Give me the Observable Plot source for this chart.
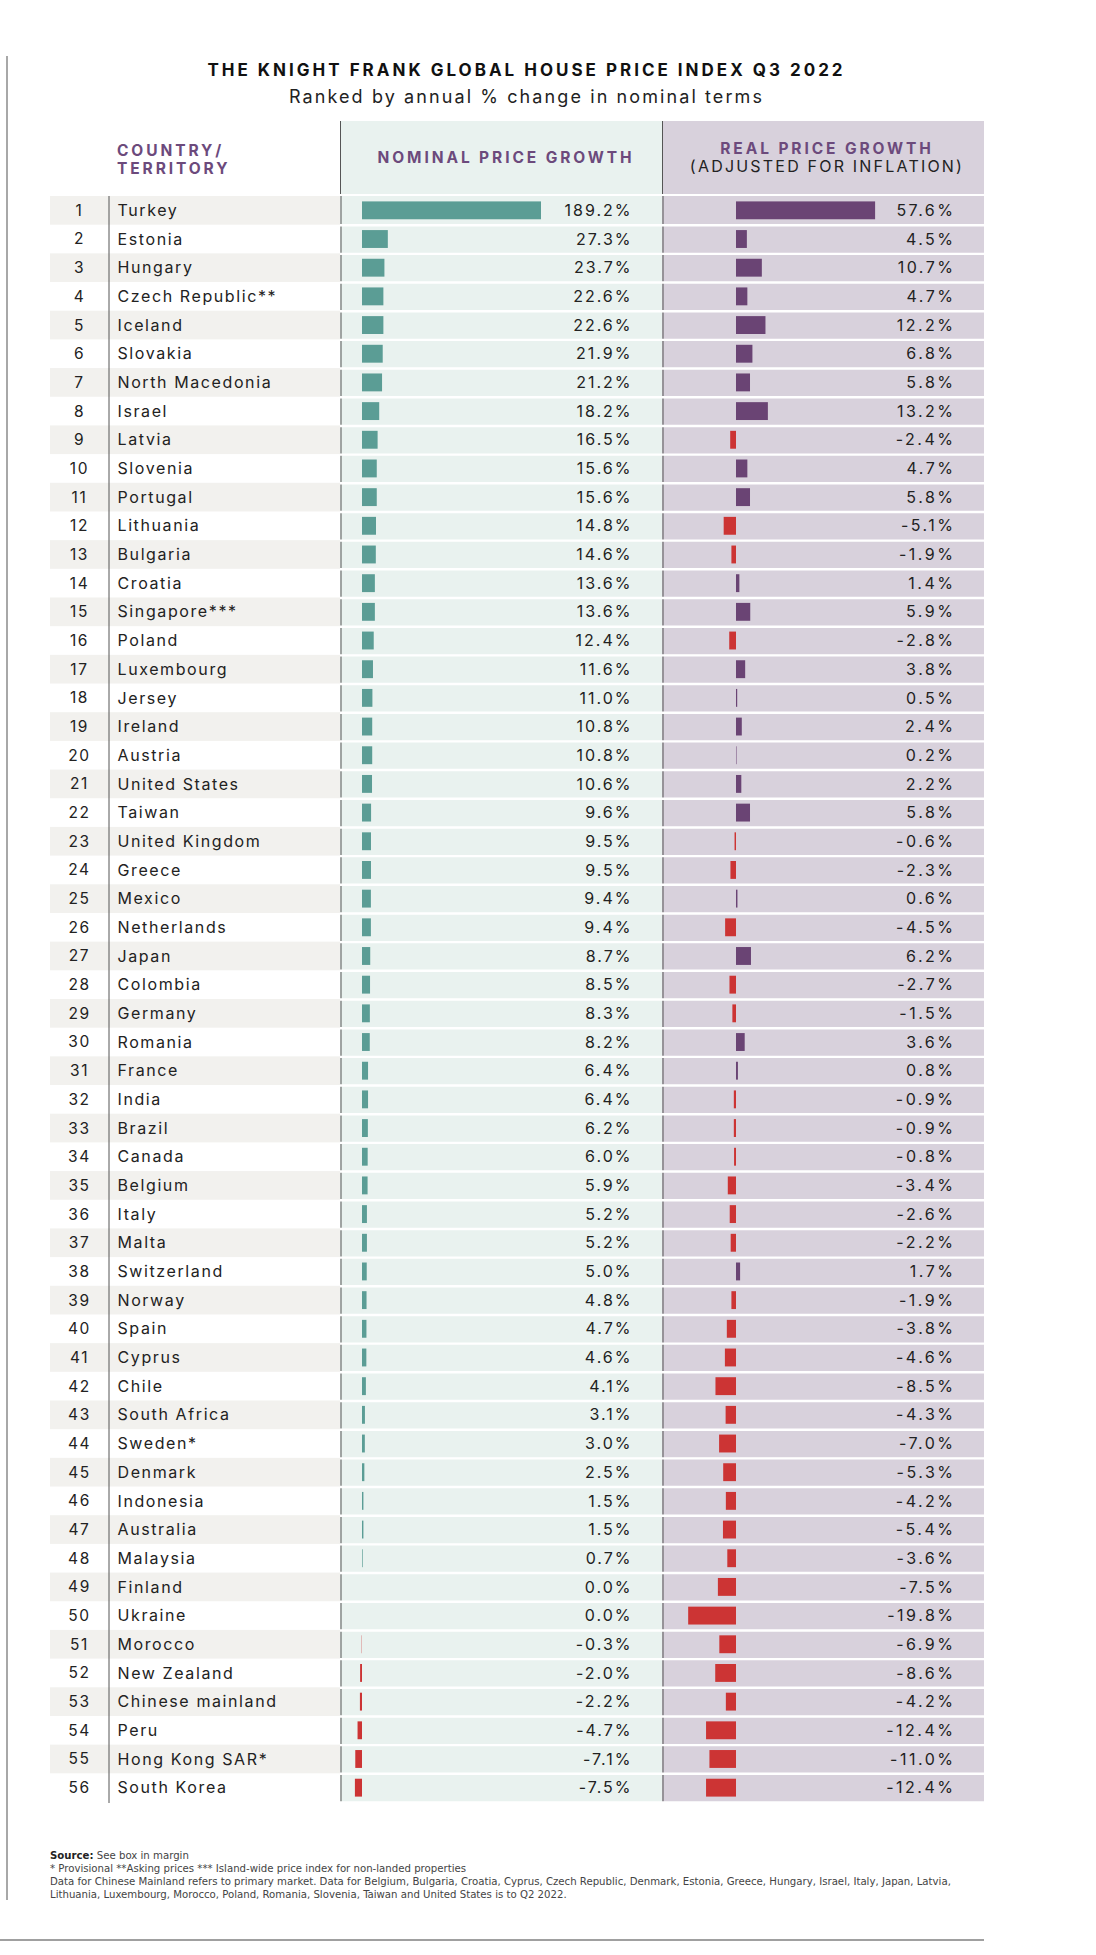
<!DOCTYPE html>
<html><head><meta charset="utf-8">
<script src="https://cdn.jsdelivr.net/npm/d3@7"></script>
<script src="https://cdn.jsdelivr.net/npm/@observablehq/plot@0.6"></script>
<style>
body{margin:0;background:#fff;}
#page{position:relative;width:1096px;height:1955px;font-family:Inter,"Noto Sans",sans-serif;color:#222;overflow:hidden;background:#fff}
.abs{position:absolute}
#title{left:0;width:1053px;top:60px;text-align:center;font-weight:700;font-size:17px;letter-spacing:3px;color:#111}
#subtitle{left:0;width:1053px;top:86px;text-align:center;font-size:18px;letter-spacing:2.1px;color:#222}
.hdr{color:#6c4a7c;font-weight:700;font-size:15.5px;letter-spacing:2.9px;line-height:17.5px}
#hNom{left:340px;top:121px;width:321px;height:73px;background:#e9f2ef;border-left:1px solid #555;display:flex;align-items:center;justify-content:center;padding-left:9px;box-sizing:border-box;width:322px}
#hReal{left:662px;top:121px;width:322px;box-sizing:border-box;padding-left:7px;height:73px;background:#d8d1dc;border-left:1px solid #555;display:flex;flex-direction:column;align-items:center;justify-content:center;text-align:center}
#hCountry{left:117px;top:142px}
.sub{color:#222;font-weight:400;font-size:16px;letter-spacing:2.2px}
#leftline{left:6px;top:56px;width:1.5px;height:1844px;background:#a8a8a8}
#bottomline{left:0;top:1939px;width:984px;height:2px;background:#a0a0a0}
#foot{left:50px;top:1849px;font-family:"Liberation Sans Narrow","DejaVu Sans Condensed","Liberation Sans",sans-serif;font-size:11.3px;line-height:13.1px;color:#444;white-space:nowrap}
#foot b{color:#222}
.plot{position:absolute;top:196px}
</style></head><body><div id="page">
<div id="leftline" class="abs"></div>
<div id="title" class="abs">THE KNIGHT FRANK GLOBAL HOUSE PRICE INDEX Q3 2022</div>
<div id="subtitle" class="abs">Ranked by annual % change in nominal terms</div>
<div id="hCountry" class="abs hdr">COUNTRY/<br>TERRITORY</div>
<div id="hNom" class="abs hdr">NOMINAL PRICE GROWTH</div>
<div id="hReal" class="abs hdr"><div>REAL PRICE GROWTH</div><div class="sub">(ADJUSTED FOR INFLATION)</div></div>
<div id="pLeft" class="plot" style="left:50px"></div>
<div id="pNom" class="plot" style="left:340px"></div>
<div id="pReal" class="plot" style="left:662px"></div>
<div id="foot" class="abs"><b>Source:</b> See box in margin<br>* Provisional **Asking prices *** Island-wide price index for non-landed properties<br>Data for Chinese Mainland refers to primary market. Data for Belgium, Bulgaria, Croatia, Cyprus, Czech Republic, Denmark, Estonia, Greece, Hungary, Israel, Italy, Japan, Latvia,<br>Lithuania, Luxembourg, Morocco, Poland, Romania, Slovenia, Taiwan and United States is to Q2 2022.</div>
<div id="bottomline" class="abs"></div>
</div>
<script>
const countries = ["Turkey","Estonia","Hungary","Czech Republic**","Iceland","Slovakia","North Macedonia","Israel","Latvia","Slovenia","Portugal","Lithuania","Bulgaria","Croatia","Singapore***","Poland","Luxembourg","Jersey","Ireland","Austria","United States","Taiwan","United Kingdom","Greece","Mexico","Netherlands","Japan","Colombia","Germany","Romania","France","India","Brazil","Canada","Belgium","Italy","Malta","Switzerland","Norway","Spain","Cyprus","Chile","South Africa","Sweden*","Denmark","Indonesia","Australia","Malaysia","Finland","Ukraine","Morocco","New Zealand","Chinese mainland","Peru","Hong Kong SAR*","South Korea"];
const nominalGrowth = [189.2,27.3,23.7,22.6,22.6,21.9,21.2,18.2,16.5,15.6,15.6,14.8,14.6,13.6,13.6,12.4,11.6,11.0,10.8,10.8,10.6,9.6,9.5,9.5,9.4,9.4,8.7,8.5,8.3,8.2,6.4,6.4,6.2,6.0,5.9,5.2,5.2,5.0,4.8,4.7,4.6,4.1,3.1,3.0,2.5,1.5,1.5,0.7,0.0,0.0,-0.3,-2.0,-2.2,-4.7,-7.1,-7.5];
const realGrowth = [57.6,4.5,10.7,4.7,12.2,6.8,5.8,13.2,-2.4,4.7,5.8,-5.1,-1.9,1.4,5.9,-2.8,3.8,0.5,2.4,0.2,2.2,5.8,-0.6,-2.3,0.6,-4.5,6.2,-2.7,-1.5,3.6,0.8,-0.9,-0.9,-0.8,-3.4,-2.6,-2.2,1.7,-1.9,-3.8,-4.6,-8.5,-4.3,-7.0,-5.3,-4.2,-5.4,-3.6,-7.5,-19.8,-6.9,-8.6,-4.2,-12.4,-11.0,-12.4];

const rows = countries.map((c, i) => ({rank: i + 1, country: c, nominal: nominalGrowth[i], real: realGrowth[i]}));
const H = 1606, P = H / countries.length;
const TEAL = "#5b9d95", PURPLE = "#6a4474", RED = "#cc3434";
const fmt = v => v.toFixed(1) + "%";
const yScale = {type: "band", domain: countries, padding: 0, axis: null};
const base = {height: H, marginTop: 0, marginBottom: 0, marginLeft: 0, marginRight: 0,
  style: {fontFamily: "Inter, 'Noto Sans', sans-serif", fontSize: "16px", letterSpacing: "1.6px", background: "transparent", overflow: "visible"}};
const gap = Plot.ruleY(rows, {y: "country", dy: P / 2, stroke: "#fff", strokeWidth: 2.4});

const left = Plot.plot({...base, width: 290, y: yScale, x: {axis: null},
  marks: [
    Plot.cell(rows.filter(d => d.rank % 2 === 1), {y: "country", fill: "#f2f1ee"}),
    Plot.text(rows, {y: "country", text: d => String(d.rank), frameAnchor: "left", dx: 29, textAnchor: "middle", fill: "#222", fontSize: 15.5}),
    Plot.text(rows, {y: "country", text: "country", frameAnchor: "left", dx: 67, textAnchor: "start", fill: "#222", fontSize: 16}),
    Plot.frame({anchor: "left", dx: 58.5, stroke: "#555"})
  ]});
document.getElementById("pLeft").append(left);

const nom = Plot.plot({...base, width: 322, y: yScale,
  x: {domain: [-23.25, 317.1], axis: null},
  style: {...base.style, letterSpacing: "2px"},
  marks: [
    Plot.cell(rows, {y: "country", fill: "#e9f2ef"}),
    Plot.frame({anchor: "left", dx: 0.5, stroke: "#555"}),
    gap,
    Plot.barX(rows, {filter: d => d.nominal > 0, y: "country", x: "nominal", fill: TEAL, insetTop: 5.4, insetBottom: 5.4}),
    Plot.barX(rows, {filter: d => d.nominal < 0, y: "country", x: "nominal", fill: RED, insetTop: 5.4, insetBottom: 5.4}),
    Plot.text(rows, {y: "country", text: d => fmt(d.nominal), frameAnchor: "right", dx: -30, textAnchor: "end", fill: "#222", fontSize: 16})
  ]});
document.getElementById("pNom").append(nom);

const real = Plot.plot({...base, width: 322, y: yScale,
  x: {domain: [-30.64, 102.69], axis: null},
  style: {...base.style, letterSpacing: "2.5px"},
  marks: [
    Plot.cell(rows, {y: "country", fill: "#d8d1dc"}),
    Plot.frame({anchor: "left", dx: 0.5, stroke: "#555"}),
    gap,
    Plot.barX(rows, {filter: d => d.real > 0, y: "country", x: "real", fill: PURPLE, insetTop: 5.4, insetBottom: 5.4}),
    Plot.barX(rows, {filter: d => d.real < 0, y: "country", x: "real", fill: RED, insetTop: 5.4, insetBottom: 5.4}),
    Plot.text(rows, {y: "country", text: d => fmt(d.real), frameAnchor: "right", dx: -29, textAnchor: "end", fill: "#222", fontSize: 16})
  ]});
document.getElementById("pReal").append(real);
</script>
</body></html>
